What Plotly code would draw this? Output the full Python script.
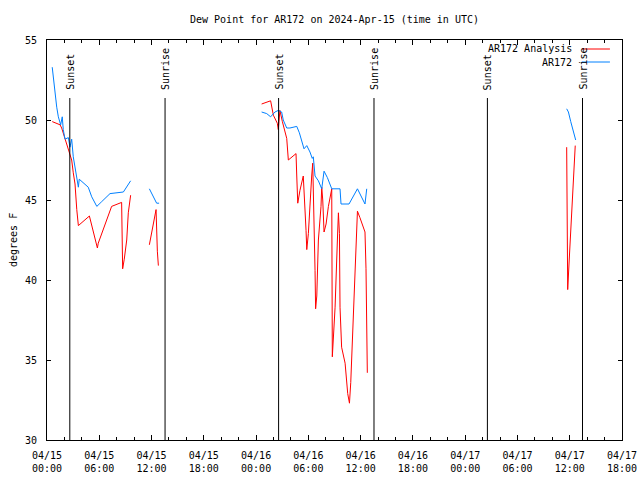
import plotly.graph_objects as go

# AR172 Analysis (red)
an_time = [
    "2024-04-15 00:36", "2024-04-15 01:07", "2024-04-15 01:30", "2024-04-15 01:41", "2024-04-15 01:52",
    "2024-04-15 02:15", "2024-04-15 02:38", "2024-04-15 02:50", "2024-04-15 03:01", "2024-04-15 03:13",
    "2024-04-15 03:25", "2024-04-15 03:36", "2024-04-15 04:52", "2024-04-15 05:19", "2024-04-15 05:47",
    "2024-04-15 05:53", "2024-04-15 07:25", "2024-04-15 08:34", "2024-04-15 08:41", "2024-04-15 08:52",
    "2024-04-15 09:09", "2024-04-15 09:20", "2024-04-15 09:36",
    None,
    "2024-04-15 11:45", "2024-04-15 12:31", "2024-04-15 12:40", "2024-04-15 12:47",
    None,
    "2024-04-16 00:38", "2024-04-16 01:13", "2024-04-16 01:40", "2024-04-16 01:59", "2024-04-16 02:26",
    "2024-04-16 02:33", "2024-04-16 02:44", "2024-04-16 03:01", "2024-04-16 03:31", "2024-04-16 03:42",
    "2024-04-16 04:35", "2024-04-16 04:40", "2024-04-16 04:47", "2024-04-16 05:02", "2024-04-16 05:25",
    "2024-04-16 05:44", "2024-04-16 05:49", "2024-04-16 06:00", "2024-04-16 06:11", "2024-04-16 06:23",
    "2024-04-16 06:30", "2024-04-16 06:39", "2024-04-16 06:46", "2024-04-16 06:50", "2024-04-16 06:58",
    "2024-04-16 07:09", "2024-04-16 07:20", "2024-04-16 07:27", "2024-04-16 07:32", "2024-04-16 07:39",
    "2024-04-16 07:48", "2024-04-16 08:02", "2024-04-16 08:18", "2024-04-16 08:29", "2024-04-16 08:41",
    "2024-04-16 08:45", "2024-04-16 08:52", "2024-04-16 09:04", "2024-04-16 09:20", "2024-04-16 09:27",
    "2024-04-16 09:34", "2024-04-16 09:38", "2024-04-16 09:49", "2024-04-16 10:13", "2024-04-16 10:31",
    "2024-04-16 10:43", "2024-04-16 10:52", "2024-04-16 11:10", "2024-04-16 11:28", "2024-04-16 11:38",
    "2024-04-16 11:55", "2024-04-16 12:14", "2024-04-16 12:30", "2024-04-16 12:37", "2024-04-16 12:42",
    "2024-04-16 12:46",
    None,
    "2024-04-17 11:39", "2024-04-17 11:46", "2024-04-17 11:55", "2024-04-17 12:02", "2024-04-17 12:09",
    "2024-04-17 12:16", "2024-04-17 12:20", "2024-04-17 12:25", "2024-04-17 12:32", "2024-04-17 12:38",
]
an_dewpt = [
    49.9, 49.8, 49.7, 49.5, 49.2,
    48.5, 47.9, 47.5, 46.7, 46.0,
    44.4, 43.4, 44.0, 43.0, 42.0,
    42.3, 44.6, 44.85, 40.7, 41.3,
    42.5, 44.2, 45.3,
    None,
    42.2, 44.4, 41.8, 40.9,
    None,
    51.0, 51.1, 51.2, 50.3, 49.8,
    49.4, 50.6, 49.9, 48.85, 47.5,
    47.9, 46.5, 44.8, 45.6, 46.5,
    43.1, 41.9, 42.9, 45.0, 46.5,
    47.3, 44.4, 40.6, 38.2, 39.0,
    42.5, 43.5, 44.6, 45.8, 45.0,
    43.0, 43.5, 44.6, 45.2, 45.7,
    35.2, 36.3, 38.3, 42.5, 44.2,
    42.9, 38.3, 35.8, 34.8, 32.9,
    32.3, 33.6, 37.9, 42.1, 44.3,
    43.9, 43.4, 43.0, 40.7, 36.4,
    34.2,
    None,
    48.3, 39.4, 41.0, 42.2, 43.3,
    44.6, 45.6, 46.7, 47.7, 48.4,
]

# AR172 observations (blue)
obs_time = [
    "2024-04-15 00:36", "2024-04-15 00:43", "2024-04-15 00:55", "2024-04-15 01:07", "2024-04-15 01:18",
    "2024-04-15 01:34", "2024-04-15 01:45", "2024-04-15 01:52", "2024-04-15 02:04", "2024-04-15 02:27",
    "2024-04-15 02:38", "2024-04-15 02:50", "2024-04-15 03:01", "2024-04-15 03:13", "2024-04-15 03:25",
    "2024-04-15 03:36", "2024-04-15 03:42", "2024-04-15 04:10", "2024-04-15 04:44", "2024-04-15 05:08",
    "2024-04-15 05:43", "2024-04-15 06:17", "2024-04-15 07:14", "2024-04-15 08:46", "2024-04-15 09:36",
    None,
    "2024-04-15 11:45", "2024-04-15 12:35", "2024-04-15 12:52",
    None,
    "2024-04-16 00:38", "2024-04-16 01:13", "2024-04-16 01:40", "2024-04-16 02:10", "2024-04-16 02:33",
    "2024-04-16 02:56", "2024-04-16 03:07", "2024-04-16 03:31", "2024-04-16 03:53", "2024-04-16 04:40",
    "2024-04-16 04:58", "2024-04-16 05:30", "2024-04-16 05:49", "2024-04-16 06:11", "2024-04-16 06:27",
    "2024-04-16 06:34", "2024-04-16 06:46", "2024-04-16 07:09", "2024-04-16 07:32", "2024-04-16 07:48",
    "2024-04-16 08:11", "2024-04-16 08:41", "2024-04-16 09:38", "2024-04-16 09:45", "2024-04-16 10:40",
    "2024-04-16 11:38", "2024-04-16 12:30", "2024-04-16 12:42",
    None,
    "2024-04-17 11:39", "2024-04-17 11:51", "2024-04-17 12:07", "2024-04-17 12:25", "2024-04-17 12:41",
]
obs_dewpt = [
    53.3, 52.7, 51.5, 50.8, 50.2,
    49.7, 50.2, 49.4, 48.8, 48.9,
    48.3, 48.8, 47.7, 47.1, 46.3,
    45.8, 46.3, 46.1, 45.8, 45.2,
    44.6, 44.9, 45.4, 45.5, 46.2,
    None,
    45.7, 44.8, 44.8,
    None,
    50.5, 50.4, 50.2, 50.5, 50.6,
    50.5, 50.0, 49.5, 49.5, 49.6,
    49.2, 48.2, 48.4, 48.0, 47.6,
    47.7, 46.5, 46.2, 45.7, 46.8,
    46.4, 45.7, 45.7, 44.75, 44.75,
    45.7, 44.75, 45.7,
    None,
    50.7, 50.5, 49.9, 49.3, 48.75,
]

sun_times = ["2024-04-15 02:37", "2024-04-15 13:33", "2024-04-16 02:35",
             "2024-04-16 13:32", "2024-04-17 02:33", "2024-04-17 13:28"]
sun_labels = ["Sunset", "Sunrise", "Sunset", "Sunrise", "Sunset", "Sunrise"]

series_names = ["AR172 Analysis", "AR172"]
series_colors = ["#ff0000", "#0080ff"]

FONT = "DejaVu Sans Mono"

fig = go.Figure()
fig.add_trace(go.Scatter(x=an_time, y=an_dewpt, mode="lines", name=series_names[0],
                         line=dict(color=series_colors[0], width=1), showlegend=False))
fig.add_trace(go.Scatter(x=obs_time, y=obs_dewpt, mode="lines", name=series_names[1],
                         line=dict(color=series_colors[1], width=1), showlegend=False))

shapes = []
annotations = []
for t, lab in zip(sun_times, sun_labels):
    shapes.append(dict(type="line", xref="x", yref="paper", x0=t, x1=t, y0=0, y1=0.855,
                       line=dict(color="black", width=1)))
    annotations.append(dict(x=t, xref="x", y=0.87, yref="paper", text=lab, textangle=-90,
                            showarrow=False, xanchor="center", yanchor="bottom",
                            font=dict(family=FONT, size=10, color="black")))

# legend (text right-aligned, sample line to the right)
leg_y = [0.9775, 0.945]
for name, col, yy in zip(series_names, series_colors, leg_y):
    annotations.append(dict(x=0.916, xref="paper", y=yy, yref="paper", text=name,
                            showarrow=False, xanchor="right", yanchor="middle",
                            font=dict(family=FONT, size=10, color="black")))
    shapes.append(dict(type="line", xref="paper", yref="paper", x0=0.930, x1=0.979,
                       y0=yy, y1=yy, line=dict(color=col, width=1)))

annotations.append(dict(x=0, xref="paper", y=0.5, yref="paper", text="degrees F",
                        textangle=-90, showarrow=False, xanchor="center", yanchor="middle",
                        xshift=-34, font=dict(family=FONT, size=10, color="black")))

fig.update_layout(
    width=640, height=480,
    margin=dict(l=47, r=18, t=40, b=40, autoexpand=False),
    paper_bgcolor="white", plot_bgcolor="white",
    font=dict(family=FONT, size=10, color="black"),
    title=dict(text="Dew Point for AR172 on 2024-Apr-15 (time in UTC)",
               x=0.5, xref="paper", xanchor="center", y=1 - 19 / 480, yref="container",
               yanchor="middle", font=dict(family=FONT, size=10, color="black")),
    shapes=shapes, annotations=annotations,
    showlegend=False,
)
fig.update_xaxes(
    type="date", range=["2024-04-15 00:00", "2024-04-17 18:00"], automargin=False,
    tick0="2024-04-15 00:00", dtick=6 * 3600 * 1000, tickformat="%m/%d<br>%H:%M",
    ticks="inside", ticklen=5, tickcolor="black", showline=True, linecolor="black",
    linewidth=1, mirror="ticks", showgrid=False, zeroline=False,
    minor=dict(dtick=2 * 3600 * 1000, tick0="2024-04-15 00:00", ticks="inside",
               ticklen=3, tickcolor="black", showgrid=False),
    ticklabelstandoff=6,
)
fig.update_yaxes(
    range=[30, 55], dtick=5, tick0=30, automargin=False,
    ticks="inside", ticklen=4, tickcolor="black", showline=True, linecolor="black",
    linewidth=1, mirror="ticks", showgrid=False, zeroline=False,
    ticklabelstandoff=7,
)

fig.write_html(
    "out.html",
    config={"displayModeBar": False},
    post_script="document.documentElement.style.margin='0';document.body.style.margin='0';"
                "document.body.style.padding='0';document.body.style.overflow='hidden';",
)
